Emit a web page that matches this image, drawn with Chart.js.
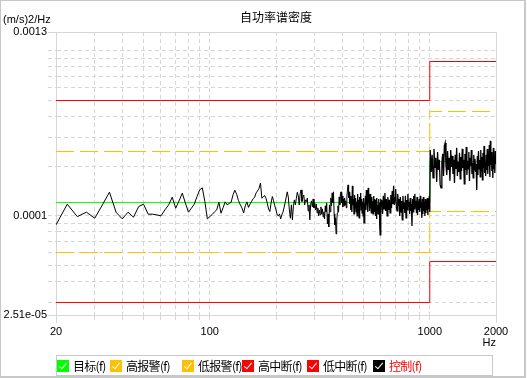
<!DOCTYPE html>
<html>
<head>
<meta charset="utf-8">
<script src="https://cdn.jsdelivr.net/npm/chart.js@4.4.1/dist/chart.umd.min.js"></script>
<style>
  body { margin: 0; background: #fff; }
  #wrap { position: relative; width: 527px; height: 378px; overflow: hidden; background: #fff; }
  #frame {
    position: absolute; left: 0; top: 0; width: 526px; height: 378px; box-sizing: border-box;
    border: 1px solid #c8c8c8; border-right-width: 2px; border-bottom-width: 2px; pointer-events: none;
  }
  #unit { position: absolute; left: 3px; top: 13px; font: 11px 'Liberation Sans', Arial, sans-serif; line-height: 13px; color: #000; }
  #legend {
    position: absolute; left: 56px; top: 355px; width: 437px; height: 21px; box-sizing: border-box;
    border: 1px solid #c8c8c8; font: 12px 'Noto Sans CJK SC', sans-serif; line-height: 12px;
  }
  .box { position: absolute; top: 4px; width: 12px; height: 12px; }
  .box::after {
    content: ''; position: absolute; left: 4px; top: 1px; width: 3px; height: 7px;
    border-right: 1.5px solid #fff; border-bottom: 1.5px solid #fff; transform: rotate(40deg);
  }
  .lbl { position: absolute; top: 4px; white-space: nowrap; letter-spacing: -0.7px; }
</style>
</head>
<body>
<div id="wrap">
  <canvas id="psd" width="527" height="378"></canvas>
  <div id="unit">(m/s)2/Hz</div>
  <div id="legend"></div>
  <div id="frame"></div>
</div>
<script>
// axis ticks
const xTicks = [20, 30, 40, 50, 60, 70, 80, 90, 100, 200, 300, 400, 500, 600, 700, 800, 900, 1000, 2000];
const xLabels = [20, 100, 1000, 2000];
const yTicks = [2.51e-5, 3e-5, 4e-5, 5e-5, 6e-5, 7e-5, 8e-5, 9e-5, 1e-4, 2e-4, 3e-4, 4e-4, 5e-4, 6e-4, 7e-4, 8e-4, 9e-4, 1e-3, 1.3e-3];
const yLabelValues = [2.51e-5, 1e-4, 1.3e-3];
const yLabelTexts = ['2.51e-05', '0.0001', '0.0013'];

// reference / limit profiles (step at 1000 Hz)
const stepFreqs = [20, 1000, 1000, 2000];
const target    = [1.206e-4, 1.206e-4, 2.136e-4, 2.136e-4];
const highAlarm = [2.455e-4, 2.455e-4, 4.29e-4, 4.29e-4];
const lowAlarm  = [6.0e-5, 6.0e-5, 1.063e-4, 1.063e-4];
const highAbort = [5.0e-4, 5.0e-4, 8.614e-4, 8.614e-4];
const lowAbort  = [2.987e-5, 2.987e-5, 5.293e-5, 5.293e-5];

// control spectrum
const freqs = [
  20, 22.5, 25, 27.5, 30, 32.5, 35, 37.5, 40, 42.5,
  45, 47.5, 50, 52.5, 55, 57.5, 60, 62.5, 65, 67.5,
  70, 72.5, 75, 77.5, 80, 82.5, 85, 87.5, 90, 92.5,
  95, 97.5, 100, 102.5, 105, 107.5, 110, 112.5, 115, 117.5,
  120, 122.5, 125, 127.5, 130, 132.5, 135, 137.5, 140, 142.5,
  145, 147.5, 150, 152.5, 155, 157.5, 160, 162.5, 165, 167.5,
  170, 172.5, 175, 177.5, 180, 182.5, 185, 187.5, 190, 192.5,
  195, 197.5, 200, 202.5, 205, 207.5, 210, 212.5, 215, 217.5,
  220, 222.5, 225, 227.5, 230, 232.5, 235, 237.5, 240, 242.5,
  245, 247.5, 250, 252.5, 255, 257.5, 260, 262.5, 265, 267.5,
  270, 272.5, 275, 277.5,
  280, 282.5, 285, 287.5, 290, 292.5, 295, 297.5, 300, 302.5,
  305, 307.5, 310, 312.5, 315, 317.5, 320, 322.5, 325, 327.5,
  330, 332.5, 335, 337.5, 340, 342.5, 345, 347.5, 350, 352.5,
  355, 357.5, 360, 362.5, 365, 367.5, 370, 372.5, 375, 377.5,
  380, 382.5, 385, 387.5, 390, 392.5, 395, 397.5, 400, 402.5,
  405, 407.5, 410, 412.5, 415, 417.5, 420, 422.5, 425, 427.5,
  430, 432.5,
  435, 437.5, 440, 442.5, 445, 447.5, 450, 452.5, 455, 457.5,
  460, 462.5, 465, 467.5, 470, 472.5, 475, 477.5, 480, 482.5,
  485, 487.5, 490, 492.5, 495, 497.5, 500, 502.5, 505, 507.5,
  510, 512.5, 515, 517.5, 520, 522.5, 525, 527.5, 530, 532.5,
  535, 537.5, 540, 542.5, 545, 547.5, 550, 552.5, 555, 557.5,
  560, 562.5, 565, 567.5, 570, 572.5, 575, 577.5, 580, 582.5,
  585, 587.5, 590, 592.5, 595, 597.5, 600,
  605, 610, 615, 620, 625, 630, 635, 640, 645, 650,
  655, 660, 665, 670, 675, 680, 685, 690, 695, 700,
  705, 710, 715, 720, 725, 730, 735, 740, 745, 750,
  755, 760, 765, 770, 775, 780, 785, 790, 795, 800,
  805, 810, 815, 820, 825, 830, 835, 840, 845, 850,
  855, 860, 865, 870, 875, 880, 885, 890, 895, 900,
  905, 910, 915, 920, 925, 930, 935, 940, 945, 950,
  955, 960, 965, 970, 975, 980, 985, 990, 995, 1000,
  1005, 1015, 1025, 1035, 1045, 1055, 1065, 1075, 1085, 1095,
  1105, 1115, 1125, 1135, 1145, 1155, 1165, 1175, 1185, 1195,
  1205, 1215, 1225, 1235, 1245, 1255, 1265, 1275, 1285, 1295,
  1305, 1315, 1325, 1335, 1345, 1355, 1365, 1375, 1385, 1395,
  1405, 1415, 1425, 1435, 1445, 1455, 1465, 1475, 1485, 1495,
  1505, 1515, 1525, 1535, 1545, 1555, 1565, 1575, 1585, 1595,
  1605, 1615, 1625, 1635, 1645, 1655, 1665, 1675, 1685, 1695,
  1705, 1715, 1725, 1735, 1745, 1755, 1765, 1775, 1785, 1795,
  1805, 1815, 1825, 1835, 1845, 1855, 1865, 1875, 1885, 1895,
  1905, 1915, 1925, 1935, 1945, 1955, 1965, 1975, 1985, 1995,
  2000
];
const control = [
  8.83e-5, 1.177e-4, 9.9e-5, 1.053e-4, 9.68e-5, 1.166e-4, 1.392e-4, 1.053e-4, 9.59e-5, 1.053e-4,
  9.82e-5, 1.139e-4, 1.177e-4, 1.024e-4, 1.024e-4, 1.014e-4, 1.0e-4, 1.087e-4, 1.166e-4, 1.298e-4,
  1.113e-4, 1.233e-4, 1.373e-4, 1.194e-4, 1.053e-4, 1.113e-4, 1.177e-4, 1.309e-4, 1.437e-4, 1.48e-4,
  1.221e-4, 9.59e-5, 9.9e-5, 1.02e-4, 1.057e-4, 1.087e-4, 1.21e-4, 1.038e-4, 1.123e-4, 1.216e-4,
  1.166e-4, 1.19e-4, 1.207e-4, 1.34e-4, 1.43e-4, 1.35e-4, 1.24e-4, 1.17e-4, 1.118e-4, 1.043e-4,
  1.15e-4, 1.216e-4, 1.126e-4, 1.182e-4, 1.225e-4, 1.27e-4, 1.3e-4, 1.38e-4, 1.418e-4, 1.468e-4,
  1.58e-4, 1.28e-4, 1.3e-4, 1.33e-4, 1.285e-4, 1.194e-4, 1.1e-4, 1.062e-4, 1.2e-4, 1.31e-4,
  1.233e-4, 1.15e-4, 1.087e-4, 1.014e-4, 1.0e-4, 1.028e-4, 9.59e-5, 1.014e-4, 1.053e-4, 1.118e-4,
  1.2e-4, 1.3e-4, 1.398e-4, 1.3e-4, 1.087e-4, 9.68e-5, 1.166e-4, 9.46e-5, 1.15e-4, 1.25e-4,
  1.166e-4, 1.28e-4, 1.39e-4, 1.322e-4, 1.166e-4, 1.359e-4, 1.437e-4, 1.221e-4, 1.3e-4, 1.34e-4,
  1.166e-4, 1.25e-4, 1.221e-4, 1.28e-4,
  1.072e-4, 1.166e-4, 9.46e-5, 1.182e-4, 1.233e-4, 1.134e-4, 1.267e-4, 1.118e-4, 1.199e-4, 1.087e-4,
  1.182e-4, 1.043e-4, 1.118e-4, 1.0e-4, 1.087e-4, 1.014e-4, 1.134e-4, 1.028e-4, 1.103e-4, 9.86e-5,
  1.057e-4, 9.59e-5, 1.15e-4, 1.057e-4, 1.199e-4, 8.95e-5, 1.028e-4, 8.58e-5, 1.166e-4, 1.057e-4,
  1.285e-4, 1.15e-4, 1.378e-4, 1.199e-4, 1.398e-4, 1.028e-4, 8.82e-5, 9.73e-5, 7.78e-5, 9.2e-5,
  1.043e-4, 1.15e-4, 1.057e-4, 1.303e-4, 1.166e-4, 1.359e-4, 1.398e-4, 1.199e-4, 1.322e-4, 1.134e-4,
  1.267e-4, 1.15e-4, 1.285e-4, 1.166e-4, 1.233e-4, 1.118e-4, 1.303e-4, 1.437e-4, 1.541e-4, 1.285e-4,
  1.398e-4, 1.182e-4,
  1.322e-4, 1.087e-4, 1.25e-4, 1.057e-4, 1.52e-4, 1.166e-4, 1.267e-4, 1.028e-4, 1.34e-4, 1.118e-4,
  1.285e-4, 1.057e-4, 1.216e-4, 1.0e-4, 1.359e-4, 1.087e-4, 1.25e-4, 9.73e-5, 1.303e-4, 1.15e-4,
  1.378e-4, 1.087e-4, 1.267e-4, 1.043e-4, 1.216e-4, 1.0e-4, 1.285e-4, 9.07e-5, 1.182e-4, 1.057e-4,
  1.322e-4, 1.087e-4, 1.437e-4, 1.166e-4, 1.267e-4, 1.057e-4, 1.478e-4, 1.199e-4, 1.322e-4, 1.072e-4,
  1.359e-4, 1.118e-4, 1.267e-4, 1.043e-4, 1.303e-4, 1.103e-4, 1.233e-4, 1.028e-4, 1.322e-4, 1.134e-4,
  1.267e-4, 1.057e-4, 1.199e-4, 1.0e-4, 1.25e-4, 9.59e-5, 1.285e-4, 1.087e-4, 1.166e-4, 1.028e-4,
  1.267e-4, 1.057e-4, 1.199e-4, 8.7e-5, 7.67e-5, 1.087e-4, 1.25e-4,
  1.233e-4, 1.028e-4, 1.322e-4, 1.103e-4, 1.378e-4, 1.072e-4, 1.267e-4, 1.0e-4, 1.303e-4, 1.087e-4,
  1.25e-4, 1.043e-4, 1.34e-4, 1.118e-4, 1.417e-4, 1.182e-4, 1.52e-4, 1.166e-4, 1.285e-4, 1.457e-4,
  1.134e-4, 1.072e-4, 1.359e-4, 1.15e-4, 1.267e-4, 1.0e-4, 1.303e-4, 1.057e-4, 1.233e-4, 9.46e-5,
  1.322e-4, 1.103e-4, 1.199e-4, 1.043e-4, 1.322e-4, 9.73e-5, 1.25e-4, 1.087e-4, 1.359e-4, 1.134e-4,
  1.216e-4, 1.028e-4, 1.285e-4, 1.072e-4, 1.182e-4, 8.7e-5, 1.267e-4, 1.057e-4, 1.322e-4, 1.103e-4,
  1.359e-4, 1.134e-4, 1.233e-4, 1.043e-4, 1.303e-4, 1.014e-4, 1.216e-4, 1.087e-4, 1.267e-4, 1.057e-4,
  1.322e-4, 1.118e-4, 1.199e-4, 9.73e-5, 1.267e-4, 1.028e-4, 1.303e-4, 1.072e-4, 1.216e-4, 1.0e-4,
  1.267e-4, 1.043e-4, 1.182e-4, 1.087e-4, 1.285e-4, 1.014e-4, 1.233e-4, 1.103e-4, 1.322e-4, 1.057e-4,
  2.51e-4, 1.847e-4, 2.342e-4, 1.699e-4, 2.546e-4, 1.953e-4, 2.246e-4, 1.607e-4, 2.441e-4, 1.9e-4,
  2.184e-4, 1.541e-4, 1.478e-4, 2.095e-4, 2.375e-4, 1.747e-4, 2.655e-4, 2.768e-4, 2.009e-4, 1.772e-4,
  2.475e-4, 1.9e-4, 2.246e-4, 1.63e-4, 2.51e-4, 1.981e-4, 2.309e-4, 1.797e-4, 2.184e-4, 1.585e-4,
  2.342e-4, 1.926e-4, 2.582e-4, 1.747e-4, 2.124e-4, 1.847e-4, 2.408e-4, 1.675e-4, 2.277e-4, 1.873e-4,
  2.546e-4, 1.953e-4, 2.184e-4, 1.563e-4, 2.375e-4, 1.9e-4, 2.618e-4, 1.772e-4, 2.154e-4, 1.926e-4,
  2.441e-4, 1.63e-4, 2.246e-4, 2.009e-4, 2.51e-4, 1.797e-4, 2.095e-4, 1.699e-4, 2.342e-4, 1.9e-4,
  2.215e-4, 1.847e-4, 2.065e-4, 1.437e-4, 2.309e-4, 1.772e-4, 2.475e-4, 1.926e-4, 2.184e-4, 1.723e-4,
  2.51e-4, 1.873e-4, 2.277e-4, 1.652e-4, 2.408e-4, 1.953e-4, 2.655e-4, 1.822e-4, 2.124e-4, 1.747e-4,
  2.342e-4, 1.9e-4, 2.546e-4, 1.797e-4, 2.246e-4, 2.009e-4, 2.692e-4, 1.723e-4, 2.847e-4, 2.037e-4,
  2.441e-4, 1.873e-4, 2.184e-4, 1.699e-4, 2.582e-4, 1.926e-4, 2.309e-4, 1.822e-4, 2.475e-4, 2.065e-4,
  2.277e-4
];

// above this frequency the trace is a dense band, drawn a bit heavier
const denseFrom = 432.5;

// legend
const legendNames = ['目标(f)', '高报警(f)', '低报警(f)', '高中断(f)', '低中断(f)', '控制(f)'];
const legendColors = ['#00ff00', '#ffc000', '#ffc000', '#ff0000', '#ff0000', '#000000'];
const legendBoxX = [0, 53, 125, 185, 250, 316];

const tickFont = { family: "'Liberation Sans', Arial, sans-serif", size: 11 };
const gridColor = '#d6d6d6';

function toPoints(xs, ys) {
  return xs.map((x, i) => ({ x: x, y: ys[i] }));
}

function series(label, points, color, dash, order, width) {
  return {
    label: label,
    data: points,
    borderColor: color,
    borderWidth: width || 1,
    borderDash: dash,
    pointRadius: 0,
    tension: 0,
    fill: false,
    order: order
  };
}

// solid lines on the frame edges, dashed inside
function edgeDash(edges) {
  return (c) => (c.tick && edges.includes(c.tick.value)) ? [] : [4, 3];
}

function buildLegend() {
  const legend = document.getElementById('legend');
  legendNames.forEach((name, i) => {
    const box = document.createElement('span');
    box.className = 'box';
    box.style.left = legendBoxX[i] + 'px';
    box.style.background = legendColors[i];
    legend.appendChild(box);

    const lbl = document.createElement('span');
    lbl.className = 'lbl';
    lbl.style.left = (legendBoxX[i] + 16) + 'px';
    lbl.style.color = i === legendNames.length - 1 ? '#ff0000' : '#000';
    lbl.textContent = name;
    legend.appendChild(lbl);
  });
}

buildLegend();

const controlPoints = toPoints(freqs, control);
const sparsePart = controlPoints.filter(p => p.x <= denseFrom);
const densePart = controlPoints.filter(p => p.x >= denseFrom);

new Chart(document.getElementById('psd'), {
  type: 'line',
  data: {
    datasets: [
      series('控制(f)', sparsePart, '#000000', [], 0, 1),
      series('控制(f)', densePart, '#000000', [], 0, 1.3),
      series('目标(f)', toPoints(stepFreqs, target), '#00ff00', [], 1),
      series('高报警(f)', toPoints(stepFreqs, highAlarm), '#ffc000', [18, 6], 2),
      series('低报警(f)', toPoints(stepFreqs, lowAlarm), '#ffc000', [18, 6], 3),
      series('高中断(f)', toPoints(stepFreqs, highAbort), '#ff0000', [], 4),
      series('低中断(f)', toPoints(stepFreqs, lowAbort), '#ff0000', [], 5)
    ]
  },
  options: {
    responsive: false,
    animation: false,
    layout: { padding: { left: 0, right: 31, top: 0, bottom: 23 } },
    plugins: {
      legend: { display: false },
      tooltip: { enabled: false },
      title: {
        display: true,
        text: '自功率谱密度',
        fullSize: false,
        color: '#000',
        font: { family: "'Noto Sans CJK SC', sans-serif", size: 12, weight: 'normal', lineHeight: 1.2 },
        padding: { top: 10, bottom: 7.6 }
      }
    },
    scales: {
      x: {
        type: 'logarithmic',
        min: 20,
        max: 2000,
        afterBuildTicks: (s) => { s.ticks = xTicks.map(v => ({ value: v })); },
        afterFit: (s) => { s.height = 40; },
        ticks: {
          autoSkip: false,
          maxRotation: 0,
          padding: 2,
          color: '#000',
          font: tickFont,
          callback: (v) => xLabels.includes(v) ? String(v) : ''
        },
        grid: {
          color: gridColor,
          tickLength: 8,
          tickBorderDash: edgeDash([20, 2000])
        },
        border: { color: gridColor, dash: edgeDash([20, 2000]) },
        title: {
          display: true,
          text: 'Hz',
          align: 'end',
          color: '#000',
          font: tickFont,
          padding: { top: 0, bottom: 5 }
        }
      },
      y: {
        type: 'logarithmic',
        min: 2.51e-5,
        max: 1.3e-3,
        afterBuildTicks: (s) => { s.ticks = yTicks.map(v => ({ value: v })); },
        afterFit: (s) => { s.width = 56; },
        ticks: {
          autoSkip: false,
          padding: 1,
          color: '#000',
          font: tickFont,
          callback: (v) => {
            const i = yLabelValues.indexOf(v);
            return i >= 0 ? yLabelTexts[i] : '';
          }
        },
        grid: {
          color: gridColor,
          tickLength: 8,
          tickBorderDash: edgeDash([2.51e-5, 1.3e-3])
        },
        border: { color: gridColor, dash: edgeDash([2.51e-5, 1.3e-3]) }
      }
    }
  }
});
</script>
</body>
</html>
